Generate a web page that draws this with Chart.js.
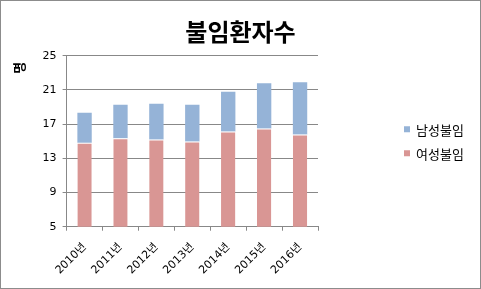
<!DOCTYPE html>
<html>
<head>
<meta charset="utf-8">
<script src="https://cdn.jsdelivr.net/npm/chart.js@4/dist/chart.umd.min.js"></script>
<style>
  html, body { margin: 0; padding: 0; background: #fff; }
  #wrap { width: 479px; height: 287px; border: 1px solid #8c8c8c; }
</style>
</head>
<body>
<div id="wrap"><canvas id="barChart" width="479" height="287"></canvas></div>
<script>
const years = ["2010년", "2011년", "2012년", "2013년", "2014년", "2015년", "2016년"];
const femaleInfertility = [14.84, 15.35, 15.2, 14.96, 16.14, 16.49, 15.78];
const maleInfertility = [3.49, 3.92, 4.19, 4.31, 4.66, 5.29, 6.12];
const yTicks = [5, 9, 13, 17, 21, 25];

const baseFont = "'DejaVu Sans', 'Noto Sans CJK KR', sans-serif";

// legend drawn beside the plot, like the Excel original
const sideLegend = {
    id: "sideLegend",
    afterDraw(chart) {
        const ctx = chart.ctx;
        const area = chart.chartArea;
        const x = area.right + 86;
        const midY = (area.top + area.bottom) / 2;
        const items = chart.data.datasets.slice().reverse();  // stacked: top series first
        ctx.save();
        ctx.font = "13px 'Noto Sans CJK KR', sans-serif";
        ctx.textBaseline = "middle";
        items.forEach((ds, i) => {
            const y = midY - 12 + i * 24;
            ctx.fillStyle = ds.backgroundColor;
            ctx.fillRect(x, y - 3, 6, 6);
            ctx.fillStyle = "#000";
            ctx.fillText(ds.label, x + 12, y + 1);
        });
        ctx.restore();
    }
};

const ctx = document.getElementById("barChart").getContext("2d");

new Chart(ctx, {
    type: "bar",
    data: {
        labels: years,
        datasets: [
            {
                label: "여성불임",
                data: femaleInfertility,
                backgroundColor: "#D99694",
                borderColor: "#ffffff",
                borderWidth: { top: 1, left: 0, right: 0, bottom: 0 },
                borderSkipped: false,
                barPercentage: 0.4,
                categoryPercentage: 1.0
            },
            {
                label: "남성불임",
                data: maleInfertility,
                backgroundColor: "#95B3D7",
                borderWidth: 0,
                barPercentage: 0.4,
                categoryPercentage: 1.0
            }
        ]
    },
    options: {
        responsive: false,
        animation: false,
        layout: { padding: { left: 0, right: 0, top: 0, bottom: 1 } },
        plugins: {
            legend: { display: false },
            tooltip: { enabled: false },
            title: {
                display: true,
                text: "불임환자수",
                color: "#000",
                font: { family: "'Noto Sans CJK KR', sans-serif", size: 24, weight: "bold" },
                padding: { top: 16, bottom: 10 }
            }
        },
        scales: {
            x: {
                stacked: true,
                grid: {
                    display: true,
                    drawOnChartArea: false,
                    drawTicks: true,
                    tickLength: 4,
                    color: "#888",
                    offset: true
                },
                border: { color: "#888" },
                ticks: {
                    color: "#000",
                    font: { family: baseFont, size: 11 },
                    maxRotation: 45,
                    minRotation: 45,
                    padding: 10
                }
            },
            y: {
                stacked: true,
                min: 5,
                max: 25,
                afterBuildTicks(axis) {
                    axis.ticks = yTicks.map(v => ({ value: v }));
                },
                grid: { color: "#888", tickLength: 4 },
                border: { color: "#888" },
                ticks: {
                    color: "#000",
                    font: { family: baseFont, size: 11 },
                    padding: 6
                },
                title: {
                    display: true,
                    text: "명  ",
                    align: "end",
                    color: "#000",
                    font: { family: "'Noto Sans CJK KR', sans-serif", size: 13, weight: "bold" },
                    padding: { top: 10, bottom: 10 }
                }
            },
            // empty axis that reserves the space on the right where the legend sits
            legendSpace: {
                type: "linear",
                position: "right",
                display: true,
                grid: { display: false },
                border: { display: false },
                ticks: { display: false },
                afterFit(axis) {
                    axis.width = 162;
                }
            }
        }
    },
    plugins: [sideLegend]
});
</script>
</body>
</html>
